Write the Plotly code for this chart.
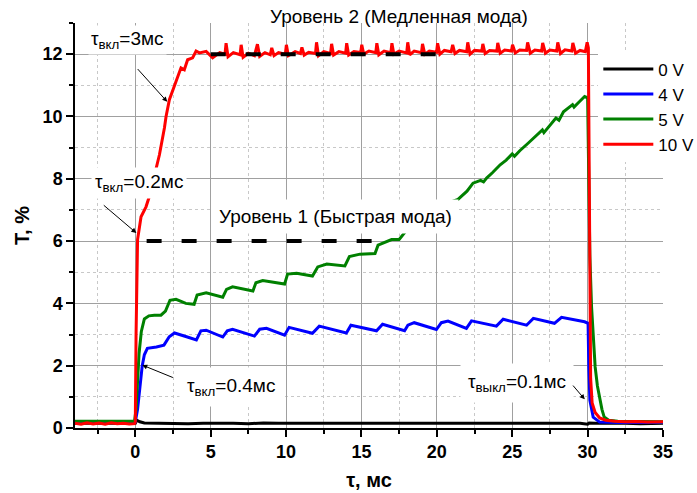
import plotly.graph_objects as go

# ---------------- data ----------------
t_0v = [-4.0, -2.0, -0.05, 0.0, 0.1, 0.3, 0.6, 1.5, 2.5, 3.5, 4.5, 5.5, 6.5, 7.5, 8.5, 9.5, 10.5, 11.5,
        12.5, 13.5, 14.5, 15.5, 16.5, 17.5, 18.5, 19.5, 20.5, 21.5, 22.5, 23.5, 24.5, 25.5, 26.5,
        27.5, 28.5, 29.5, 30.0, 30.1, 30.5, 31.5, 32.5, 33.5, 34.5, 35.0]
v_0v = [0.15, 0.15, 0.15, 0.15, 0.25, 0.2, 0.16, 0.15, 0.16, 0.14, 0.15, 0.16, 0.15, 0.14, 0.16, 0.15,
        0.15, 0.16, 0.14, 0.15, 0.16, 0.15, 0.14, 0.16, 0.15, 0.15, 0.16, 0.14, 0.15, 0.16, 0.15,
        0.14, 0.15, 0.16, 0.15, 0.15, 0.12, 0.16, 0.15, 0.16, 0.15, 0.14, 0.15, 0.15]

t_4v = [-4.0, -0.05, 0.0, 0.15, 0.3, 0.46, 0.6, 0.8, 1.4, 1.9, 2.25, 2.6, 3.4, 3.9, 4.05, 4.35, 4.7,
        5.8, 6.1, 6.45, 7.9, 8.25, 8.7, 9.9, 10.2, 11.75, 12.2, 14.0, 14.3, 16.0, 16.4, 17.86, 18.08,
        18.5, 19.97, 20.3, 20.74, 21.96, 22.3, 23.95, 24.4, 25.95, 26.4, 27.8, 28.27, 29.8, 30.03,
        30.08, 30.15, 30.37, 30.8, 32.0, 35.0]
v_4v = [0.2, 0.2, 0.2, 0.6, 1.4, 2.0, 2.35, 2.56, 2.6, 2.66, 2.93, 3.05, 2.93, 2.85, 2.83, 3.12, 3.14,
        2.92, 3.12, 3.17, 2.95, 3.17, 3.2, 2.98, 3.23, 3.04, 3.27, 3.05, 3.3, 3.12, 3.33, 3.12, 3.3,
        3.38, 3.16, 3.38, 3.43, 3.2, 3.44, 3.27, 3.49, 3.3, 3.52, 3.36, 3.55, 3.41, 3.36,
        1.96, 0.89, 0.35, 0.19, 0.18, 0.18]

t_5v = [-4.0, -2.0, -0.05, 0.05, 0.15, 0.25, 0.4, 0.6, 0.9, 1.26, 1.7, 2.0, 2.3, 2.7, 3.35, 3.9,
        4.1, 4.7, 5.8, 6.05, 6.45, 7.8, 8.0, 8.45, 9.9, 10.1, 10.7, 11.75, 12.1, 12.7, 13.9, 14.2,
        14.9, 15.9, 16.1, 16.6, 17.0, 17.5, 18.0, 18.5, 19.0, 19.5, 20.0, 20.5, 21.0, 21.4, 22.0,
        22.4, 22.9, 23.1, 23.3, 23.7, 24.2, 24.6, 25.0, 25.15, 25.5, 26.05, 26.5, 27.0, 27.1, 27.5,
        27.9, 28.1, 28.4, 29.0, 29.1, 29.4, 29.8, 30.0, 30.08, 30.15, 30.26, 30.38, 30.5, 30.65,
        30.8, 30.95, 31.1, 31.4, 32.0, 35.0]
v_5v = [0.22, 0.22, 0.22, 0.6, 1.6, 2.4, 3.1, 3.5, 3.6, 3.62, 3.62, 3.75, 4.1, 4.13, 4.0, 3.97,
        4.27, 4.34, 4.2, 4.45, 4.53, 4.4, 4.66, 4.73, 4.62, 4.94, 4.97, 4.88, 5.17, 5.26, 5.2, 5.5,
        5.58, 5.6, 5.87, 5.98, 6.05, 6.05, 6.35, 6.5, 6.7, 6.8, 7.0, 7.1, 7.27, 7.34, 7.6,
        7.86, 7.95, 7.9, 8.02, 8.2, 8.45, 8.6, 8.8, 8.72, 8.9, 9.14, 9.35, 9.57, 9.48, 9.7,
        9.95, 9.88, 10.15, 10.38, 10.3, 10.45, 10.64, 10.6, 8.0, 5.5, 3.9, 2.8, 1.96, 1.35,
        0.9, 0.6, 0.35, 0.25, 0.22, 0.2]

t_10v = [-4.0, -3.6, -3.2, -2.8, -2.4, -2.0, -1.6, -1.2, -0.8, -0.4, -0.05, 0.0, 0.05, 0.1, 0.15,
         0.38, 0.71, 0.93, 1.2, 1.6, 1.93, 2.04, 2.26, 2.6, 2.92, 3.03, 3.25, 3.47, 3.8, 4.03, 4.25,
         4.7, 5.13, 5.6, 5.95, 6.02, 6.15, 6.5, 6.95, 7.02, 7.15, 7.5, 7.9, 8.1, 8.25, 8.6, 8.95,
         9.05, 9.2, 9.5, 9.95, 10.02, 10.15, 10.6, 10.95, 11.05, 11.2, 11.5, 11.95, 12.02, 12.15,
         12.5, 12.95, 13.02, 13.15, 13.5, 13.95, 14.02, 14.15, 14.5, 14.95, 15.02, 15.15, 15.5,
         15.95, 16.02, 16.15, 16.5, 16.95, 17.02, 17.15, 17.5, 18.0, 18.07, 18.2, 18.5, 18.98,
         19.05, 19.2, 19.5, 19.98, 20.05, 20.2, 20.5, 20.95, 21.05, 21.2, 21.5, 21.98, 22.05, 22.2,
         22.5, 22.98, 23.05, 23.2, 23.5, 23.98, 24.04, 24.2, 24.5, 24.95, 25.02, 25.2, 25.5, 25.95,
         26.02, 26.2, 26.5, 26.95, 27.02, 27.2, 27.5, 27.95, 28.02, 28.2, 28.5, 28.95, 29.02, 29.2,
         29.5, 29.85, 29.97, 30.05, 30.12, 30.2, 30.3, 30.5, 30.8, 31.2, 31.8, 32.5, 33.2, 34.0, 35.0]
v_10v = [0.15, 0.12, 0.17, 0.13, 0.16, 0.12, 0.17, 0.14, 0.15, 0.13, 0.14, 0.2, 3.0, 5.8, 6.05,
         6.78, 7.1, 7.43, 8.0, 8.77, 9.63, 10.0, 10.54, 11.02, 11.45, 11.56, 11.5, 11.82, 11.88,
         12.1, 12.04, 12.09, 11.88, 12.05, 12.0, 12.35, 11.92, 12.05, 11.98, 12.3, 11.9, 12.03,
         11.95, 12.32, 11.93, 12.05, 11.98, 12.2, 11.95, 12.05, 12.0, 12.3, 11.95, 12.08, 12.02,
         12.22, 11.97, 12.06, 12.02, 12.38, 11.95, 12.08, 12.02, 12.33, 11.97, 12.08, 12.03, 12.35,
         11.97, 12.08, 12.05, 12.3, 12.0, 12.1, 12.05, 12.35, 11.98, 12.1, 12.05, 12.35, 12.0,
         12.1, 12.04, 12.38, 11.98, 12.1, 12.05, 12.33, 12.0, 12.1, 12.06, 12.35, 12.0, 12.12,
         12.08, 12.3, 12.02, 12.12, 12.08, 12.38, 12.0, 12.12, 12.1, 12.33, 12.02, 12.12, 12.1,
         12.36, 12.03, 12.13, 12.1, 12.3, 12.04, 12.13, 12.12, 12.38, 12.03, 12.13, 12.1, 12.36,
         12.03, 12.13, 12.1, 12.38, 12.02, 12.14, 12.1, 12.36, 12.03, 12.12, 12.08, 12.38, 12.2,
         6.0, 1.6, 0.8, 0.5, 0.32, 0.25, 0.22, 0.2, 0.21, 0.19, 0.2]

level1_t = [0.75, 15.8]
level1_v = [6.0, 6.0]
level2_t = [5.0, 20.1]
level2_v = [12.0, 12.0]

series_names = ["0 V", "4 V", "5 V", "10 V"]
series_colors = ["black", "#0000ff", "#008000", "#ff0000"]

FONT = "Liberation Sans, Arial, sans-serif"

fig = go.Figure()
for name, tt, vv, col in zip(series_names, [t_0v, t_4v, t_5v, t_10v], [v_0v, v_4v, v_5v, v_10v], series_colors):
    fig.add_trace(go.Scatter(x=tt, y=vv, mode="lines", name=name,
                             line=dict(color=col, width=3)))

for tt, vv in [(level1_t, level1_v), (level2_t, level2_v)]:
    fig.add_trace(go.Scatter(x=tt, y=vv, mode="lines", showlegend=False,
                             line=dict(color="black", width=4, dash="15px,20px")))

ann_font = dict(family=FONT, size=19, color="black")
annotations = [
    dict(text="Уровень 2 (Медленная мода)", xref="paper", yref="paper", x=0.551, y=1.015,
         showarrow=False, font=ann_font, xanchor="center", yanchor="middle"),
    dict(text="Уровень 1 (Быстрая мода)", x=13.3, y=6.78, showarrow=False, font=ann_font,
         bgcolor="white", borderpad=6),
    dict(text="τ<sub>вкл</sub>=3мс", x=-0.55, y=12.45, showarrow=False, font=ann_font,
         bgcolor="white", borderpad=2),
    dict(text="τ<sub>вкл</sub>=0.2мс", x=0.25, y=7.88, showarrow=False, font=ann_font,
         bgcolor="white", borderpad=3),
    dict(text="τ<sub>вкл</sub>=0.4мс", x=6.35, y=1.33, showarrow=False, font=ann_font,
         bgcolor="white", borderpad=7),
    dict(text="τ<sub>выкл</sub>=0.1мс", x=25.3, y=1.43, showarrow=False, font=ann_font,
         bgcolor="white", borderpad=7),
]
arrows = [((0.07, 11.57), (2.12, 10.47)), ((-2.19, 7.19), (0.07, 6.26)),
          ((2.59, 1.6), (0.46, 2.02)), ((28.95, 1.41), (29.81, 0.92))]
for (tx, ty), (hx, hy) in arrows:
    annotations.append(dict(text="", x=hx, y=hy, ax=tx, ay=ty, axref="x", ayref="y",
                            showarrow=True, arrowhead=2, arrowsize=1, arrowwidth=1,
                            arrowcolor="black", standoff=0, startstandoff=0))

tickfont = dict(family=FONT, size=18, color="black", weight="bold")
fig.update_layout(
    width=697, height=493,
    margin=dict(l=75, r=34, t=23, b=65, autoexpand=False),
    paper_bgcolor="white", plot_bgcolor="white",
    font=dict(family=FONT, color="black"),
    annotations=annotations,
    legend=dict(x=0.89, y=0.93, xanchor="left", yanchor="top", bgcolor="white",
                itemwidth=50,
                font=dict(family=FONT, size=17, color="black"), tracegroupgap=0),
    xaxis=dict(range=[-4, 35], tick0=0, dtick=5, ticks="outside", ticklen=7, tickwidth=1.5,
               tickcolor="black", showline=True, linecolor="black", linewidth=1.5,
               showgrid=True, gridcolor="#a0a0a0", gridwidth=1, zeroline=False,
               tickfont=tickfont, automargin=False,
               minor=dict(dtick=2.5, tick0=0, ticks="outside", ticklen=4, tickcolor="black",
                          showgrid=True, gridcolor="#c8c8c8", griddash="dot"),
               title=dict(text="τ, мс", font=dict(family=FONT, size=20, weight="bold"), standoff=12)),
    yaxis=dict(range=[0, 13], tick0=0, dtick=2, ticks="outside", ticklen=7, tickwidth=1.5,
               tickcolor="black", showline=True, linecolor="black", linewidth=1.5,
               showgrid=True, gridcolor="#a0a0a0", gridwidth=1, zeroline=False,
               tickfont=tickfont, automargin=False,
               minor=dict(dtick=1, tick0=0, ticks="outside", ticklen=4, tickcolor="black",
                          showgrid=True, gridcolor="#c8c8c8", griddash="dot"),
               title=dict(text="T, %", font=dict(family=FONT, size=20, weight="bold"), standoff=8)),
)

fig.write_html("out.html", config={"displayModeBar": False},
               post_script="document.body.style.margin='0';document.body.style.padding='0';")
